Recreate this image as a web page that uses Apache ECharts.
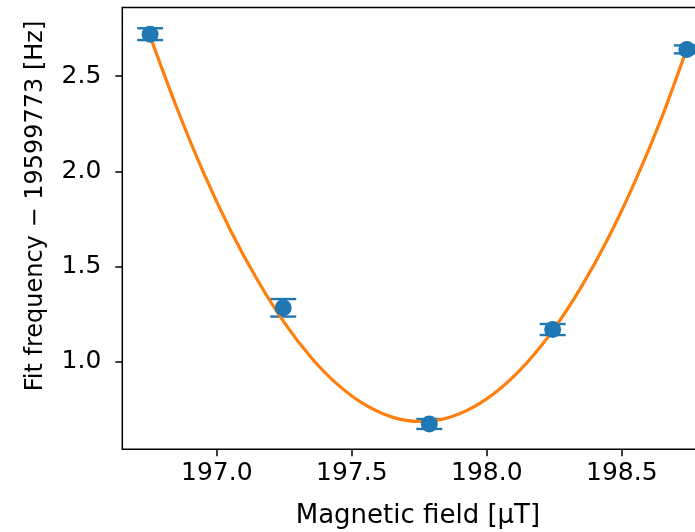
<!DOCTYPE html>
<html>
<head>
<meta charset="utf-8">
<script src="https://cdn.jsdelivr.net/npm/echarts@6/dist/echarts.min.js"></script>
<style>
html,body{margin:0;padding:0;background:#fff;overflow:hidden;}
#chart{width:695px;height:532px;}
</style>
</head>
<body>
<div id="chart"></div>
<script>
// Measured data points (magnetic field in µT, frequency offset in Hz, uncertainty in Hz)
var fieldX = [196.753, 197.246, 197.787, 198.244, 198.741];
var freq = [2.720, 1.283, 0.673, 1.169, 2.640];
var freqErr = [0.031, 0.046, 0.026, 0.029, 0.021];

// Fit curve
var fitX = [196.75, 196.85, 196.95, 197.05, 197.15, 197.25, 197.35, 197.45, 197.55, 197.65, 197.75, 197.85, 197.95, 198.05, 198.15, 198.25, 198.35, 198.45, 198.55, 198.65, 198.74];
var fitY = [2.720, 2.340, 1.995, 1.692, 1.430, 1.205, 1.021, 0.877, 0.773, 0.709, 0.686, 0.703, 0.761, 0.859, 0.997, 1.175, 1.393, 1.650, 1.950, 2.290, 2.640];

var xTicks = [197.0, 197.5, 198.0, 198.5];
var yTicks = [1.0, 1.5, 2.0, 2.5];

var xLabel = 'Magnetic field [μT]';
var yLabel = 'Fit frequency \u2212 19599773 [Hz]';

var BLUE = '#1f77b4', ORANGE = '#ff7f0e';
var FONT = 'DejaVu Sans';

var chart = echarts.init(document.getElementById('chart'), null, {renderer: 'canvas'});

var pts = fieldX.map(function (x, i) { return [x, freq[i]]; });
var errData = fieldX.map(function (x, i) { return [x, freq[i] - freqErr[i], freq[i] + freqErr[i]]; });
var fitData = fitX.map(function (x, i) { return [x, fitY[i]]; });

var option = {
  animation: false,
  backgroundColor: '#ffffff',
  grid: {
    left: 122.3, top: 7.5, width: 591.3, height: 441.8,
    outerBoundsMode: 'none', containLabel: false,
    show: true, borderColor: '#000', borderWidth: 1.5, backgroundColor: 'transparent'
  },
  xAxis: {
    type: 'value', min: 196.65, max: 198.84,
    splitLine: {show: false},
    axisLine: {show: false},
    axisTick: {show: true, length: 7, lineStyle: {color: '#000', width: 1.5}, customValues: xTicks},
    axisLabel: {customValues: xTicks, color: '#000', fontFamily: FONT, fontSize: 25, margin: 12,
      formatter: function (v) { return v.toFixed(1); }},
    name: xLabel, nameLocation: 'middle', nameGap: 54,
    nameTextStyle: {color: '#000', fontFamily: FONT, fontSize: 26}
  },
  yAxis: {
    type: 'value', min: 0.54, max: 2.86,
    splitLine: {show: false},
    axisLine: {show: false},
    axisTick: {show: true, length: 7, lineStyle: {color: '#000', width: 1.5}, customValues: yTicks},
    axisLabel: {customValues: yTicks, color: '#000', fontFamily: FONT, fontSize: 25, margin: 21,
      formatter: function (v) { return v.toFixed(1); }}
  },
  graphic: [{
    type: 'text', rotation: Math.PI / 2, x: 36, y: 206,
    style: {text: yLabel, fill: '#000', font: '24px "DejaVu Sans"', textAlign: 'center', textVerticalAlign: 'middle'}
  }],
  series: [
    {
      type: 'custom', z: 1,
      data: errData,
      renderItem: function (params, api) {
        var x = api.value(0);
        var lo = api.coord([x, api.value(1)]);
        var hi = api.coord([x, api.value(2)]);
        var hw = 13;
        var st = {stroke: BLUE, lineWidth: 2.4};
        return {type: 'group', children: [
          {type: 'line', shape: {x1: lo[0], y1: lo[1], x2: hi[0], y2: hi[1]}, style: st},
          {type: 'line', shape: {x1: lo[0] - hw, y1: lo[1], x2: lo[0] + hw, y2: lo[1]}, style: st},
          {type: 'line', shape: {x1: hi[0] - hw, y1: hi[1], x2: hi[0] + hw, y2: hi[1]}, style: st}
        ]};
      }
    },
    {
      type: 'line', z: 2, data: fitData, smooth: 0.3, showSymbol: false,
      lineStyle: {color: ORANGE, width: 3.2}
    },
    {
      type: 'scatter', z: 3, data: pts, symbol: 'circle', symbolSize: 17,
      itemStyle: {color: BLUE, opacity: 1}
    }
  ]
};
chart.setOption(option);
</script>
</body>
</html>
